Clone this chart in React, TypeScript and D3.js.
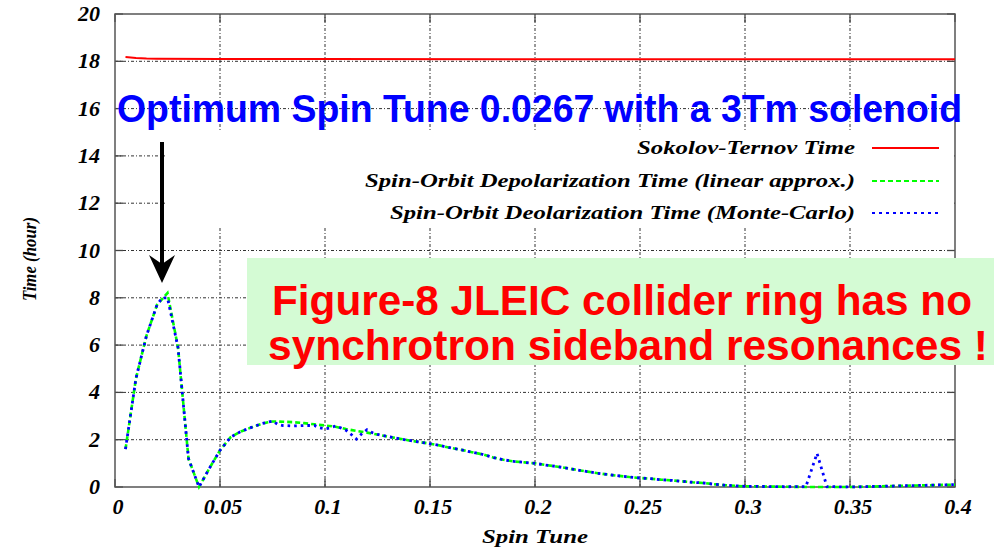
import * as d3 from 'd3';
import React from 'react';

const W = 994;
const H = 549;
const margin = { top: 14, right: 39, bottom: 62, left: 115 };

const xTicks = [0, 0.05, 0.1, 0.15, 0.2, 0.25, 0.3, 0.35, 0.4];
const xTickLabels = ['0', '0.05', '0.1', '0.15', '0.2', '0.25', '0.3', '0.35', '0.4'];
const yTicks = [0, 2, 4, 6, 8, 10, 12, 14, 16, 18, 20];

// Sokolov-Ternov time (hour)
const stTune = [0.005, 0.01, 0.015, 0.02, 0.05, 0.1, 0.2, 0.3, 0.4];
const stTime = [18.18, 18.14, 18.12, 18.11, 18.1, 18.1, 18.09, 18.09, 18.09];

// spin-orbit depolarization, linear approx.
const linTune = [0.005, 0.01, 0.015, 0.02, 0.025, 0.03, 0.035, 0.04, 0.045, 0.05, 0.055, 0.06, 0.065, 0.07, 0.075, 0.08,
  0.085, 0.09, 0.095, 0.1, 0.105, 0.11, 0.115, 0.12, 0.125, 0.13, 0.135, 0.14, 0.145, 0.15, 0.155, 0.16, 0.165, 0.17,
  0.175, 0.18, 0.185, 0.19, 0.195, 0.2, 0.205, 0.21, 0.215, 0.22, 0.225, 0.23, 0.235, 0.24, 0.245, 0.25, 0.255, 0.26,
  0.265, 0.27, 0.275, 0.28, 0.285, 0.29, 0.295, 0.3, 0.31, 0.32, 0.33, 0.34, 0.35, 0.36, 0.37, 0.38, 0.39, 0.4];
const linTime = [1.6, 4.6, 6.4, 7.7, 8.2, 5.9, 1.2, 0.0, 0.8, 1.55, 2.1, 2.35, 2.52, 2.68, 2.77, 2.76,
  2.74, 2.7, 2.65, 2.6, 2.55, 2.45, 2.37, 2.3, 2.22, 2.13, 2.05, 1.97, 1.9, 1.83, 1.75, 1.65, 1.57, 1.47,
  1.38, 1.25, 1.15, 1.08, 1.04, 1.0, 0.93, 0.87, 0.8, 0.72, 0.65, 0.58, 0.52, 0.47, 0.42, 0.38, 0.35, 0.31,
  0.28, 0.24, 0.2, 0.17, 0.12, 0.08, 0.05, 0.03, 0.02, 0.01, 0.0, 0.0, 0.0, 0.02, 0.04, 0.06, 0.08, 0.1];

// spin-orbit depolarization, Monte-Carlo
const mcTune = [0.005, 0.01, 0.015, 0.02, 0.0225, 0.025, 0.03, 0.035, 0.04, 0.045, 0.05, 0.055, 0.06, 0.065, 0.07, 0.075,
  0.0775, 0.08, 0.085, 0.09, 0.095, 0.0975, 0.1, 0.1025, 0.105, 0.1075, 0.11, 0.1125, 0.115, 0.1175, 0.12, 0.1225,
  0.125, 0.13, 0.135, 0.14, 0.145, 0.15, 0.155, 0.16, 0.165, 0.17, 0.175, 0.18, 0.185, 0.19, 0.195, 0.2, 0.205, 0.21,
  0.215, 0.22, 0.225, 0.23, 0.235, 0.24, 0.245, 0.25, 0.255, 0.26, 0.265, 0.27, 0.275, 0.28, 0.285, 0.29, 0.295, 0.3,
  0.31, 0.32, 0.329, 0.3343, 0.339, 0.35, 0.36, 0.37, 0.38, 0.39, 0.4];
const mcTime = [1.6, 4.6, 6.4, 7.7, 8.0, 8.0, 5.9, 1.2, 0.0, 0.8, 1.55, 2.1, 2.35, 2.52, 2.68, 2.79,
  2.65, 2.6, 2.58, 2.6, 2.6, 2.5, 2.46, 2.5, 2.58, 2.5, 2.4, 2.22, 2.03, 2.25, 2.42, 2.3,
  2.22, 2.13, 2.05, 1.97, 1.9, 1.83, 1.75, 1.65, 1.57, 1.47, 1.38, 1.25, 1.15, 1.08, 1.04, 1.0, 0.93, 0.87,
  0.8, 0.72, 0.65, 0.58, 0.52, 0.47, 0.42, 0.38, 0.35, 0.31, 0.28, 0.24, 0.2, 0.17, 0.12, 0.08, 0.05, 0.03,
  0.02, 0.01, 0.02, 1.42, 0.02, 0.0, 0.02, 0.04, 0.06, 0.08, 0.1];

const legendItems = [
  { label: 'Sokolov-Ternov Time', color: '#ff0000', dash: 'none', len: 218 },
  { label: 'Spin-Orbit Depolarization Time (linear approx.)', color: '#00ff00', dash: '5,3', len: 490 },
  { label: 'Spin-Orbit Deolarization Time (Monte-Carlo)', color: '#0000ff', dash: '3,4', len: 465 },
];

const serif = '"Liberation Serif", "DejaVu Serif", serif';
const sans = '"Liberation Sans", Arial, sans-serif';

export default function App() {
  const x = d3.scaleLinear().domain([0, 0.4]).range([margin.left, W - margin.right]);
  const y = d3.scaleLinear().domain([0, 20]).range([H - margin.bottom, margin.top]);
  const x0 = x(0), x1 = x(0.4), y0 = y(0), y1 = y(20);

  const line = d3.line<[number, number]>().x(d => x(d[0])).y(d => y(d[1]));
  const st = line(stTune.map((t, i) => [t, stTime[i]]));
  const lin = line(linTune.map((t, i) => [t, linTime[i]]));
  const mc = line(mcTune.map((t, i) => [t, mcTime[i]]));

  const gridStyle = { stroke: '#333', strokeWidth: 1, strokeDasharray: '3,2,1,2' };
  const tickLen = 8;
  const legendRowY = [148, 181, 213];

  return (
    <svg width={W} height={H} style={{ position: 'absolute', left: 0, top: 0, background: '#fff' }}>
      {/* grid */}
      {xTicks.slice(1, -1).map(t => (
        <line key={'gx' + t} x1={x(t)} x2={x(t)} y1={y0} y2={y1} style={gridStyle} />
      ))}
      {yTicks.slice(1, -1).map(t => (
        <line key={'gy' + t} x1={x0} x2={x1} y1={y(t)} y2={y(t)} style={gridStyle} />
      ))}
      {/* ticks on all four borders */}
      {xTicks.map(t => (
        <g key={'tx' + t} stroke="#444" strokeWidth={1.3}>
          <line x1={x(t)} x2={x(t)} y1={y0} y2={y0 - tickLen} />
          <line x1={x(t)} x2={x(t)} y1={y1} y2={y1 + tickLen} />
        </g>
      ))}
      {yTicks.map(t => (
        <g key={'ty' + t} stroke="#444" strokeWidth={1.3}>
          <line x1={x0} x2={x0 + tickLen} y1={y(t)} y2={y(t)} />
          <line x1={x1} x2={x1 - tickLen} y1={y(t)} y2={y(t)} />
        </g>
      ))}
      {/* key background */}
      <rect x={165} y={132} width={x1 - 166} height={96} fill="#fff" />
      {legendItems.map((d, i) => (
        <g key={d.label}>
          <text x={855} y={legendRowY[i] + 6} textAnchor="end" fontFamily={serif} fontStyle="italic"
            fontWeight="bold" fontSize={18} textLength={d.len} lengthAdjust="spacingAndGlyphs">{d.label}</text>
          <line x1={872} x2={939} y1={legendRowY[i]} y2={legendRowY[i]} stroke={d.color}
            strokeWidth={2.2} strokeDasharray={d.dash} />
        </g>
      ))}
      {/* border */}
      <rect x={x0} y={y1} width={x1 - x0} height={y0 - y1} fill="none" stroke="#555" strokeWidth={1.5} />
      {/* series */}
      <path d={st ?? ''} fill="none" stroke="#ff0000" strokeWidth={2} />
      <path d={lin ?? ''} fill="none" stroke="#00ff00" strokeWidth={2.6} strokeDasharray="5,3" />
      <path d={mc ?? ''} fill="none" stroke="#0000ff" strokeWidth={2.8} strokeDasharray="2.6,4" />
      {/* tick labels */}
      {xTicks.map((t, i) => (
        <text key={'lx' + t} x={x(t) + 3} y={514} textAnchor="middle" fontFamily={serif} fontStyle="italic"
          fontWeight="bold" fontSize={22}>{xTickLabels[i]}</text>
      ))}
      {yTicks.map(t => (
        <text key={'ly' + t} x={100} y={y(t) + 7} textAnchor="end" fontFamily={serif} fontStyle="italic"
          fontWeight="bold" fontSize={22}>{t}</text>
      ))}
      <text x={535} y={543} textAnchor="middle" fontFamily={serif} fontStyle="italic" fontWeight="bold"
        fontSize={19} textLength={106} lengthAdjust="spacingAndGlyphs">Spin Tune</text>
      <text transform="translate(36,259) rotate(-90)" textAnchor="middle" fontFamily={serif} fontStyle="italic"
        fontWeight="bold" fontSize={19} textLength={84} lengthAdjust="spacingAndGlyphs">Time (hour)</text>
      {/* slide annotations */}
      <text x={117} y={122} fontFamily={sans} fontWeight="bold" fontSize={38} fill="#0000ff"
        textLength={845} lengthAdjust="spacingAndGlyphs">Optimum Spin Tune 0.0267 with a 3Tm solenoid</text>
      <line x1={162} x2={162} y1={142} y2={266} stroke="#000" strokeWidth={4} />
      <path d="M162,283 L149,255 L162,264 L175,255 Z" fill="#000" />
      <rect x={247} y={258} width={W - 247} height={107} fill="#d4fbd4" />
      <text x={272} y={315} fontFamily={sans} fontWeight="bold" fontSize={42} fill="#ff0000"
        textLength={700} lengthAdjust="spacingAndGlyphs">Figure-8 JLEIC collider ring has no</text>
      <text x={268} y={360} fontFamily={sans} fontWeight="bold" fontSize={42} fill="#ff0000"
        textLength={720} lengthAdjust="spacingAndGlyphs">synchrotron sideband resonances !</text>
    </svg>
  );
}
